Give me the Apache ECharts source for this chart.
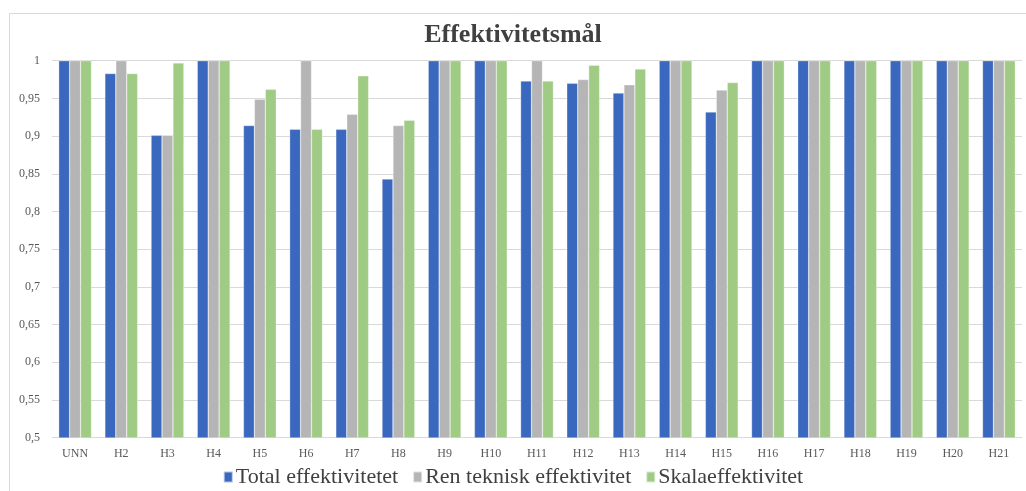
<!DOCTYPE html>
<html>
<head>
<meta charset="utf-8">
<script src="https://cdn.jsdelivr.net/npm/echarts@6/dist/echarts.min.js"></script>
<style>
  html, body { margin: 0; padding: 0; background: #ffffff; }
  #chart { width: 1026px; height: 491px; }
</style>
</head>
<body>
<div id="chart"></div>
<script>
// Hospital units
const categories = ['UNN', 'H2', 'H3', 'H4', 'H5', 'H6', 'H7', 'H8', 'H9', 'H10', 'H11',
  'H12', 'H13', 'H14', 'H15', 'H16', 'H17', 'H18', 'H19', 'H20', 'H21'];

// Efficiency scores per unit
const totalEff = [1, 0.983, 0.901, 1, 0.914, 0.909, 0.909, 0.843, 1, 1, 0.973,
  0.970, 0.957, 1, 0.932, 1, 1, 1, 1, 1, 1];
const pureTechEff = [1, 1, 0.901, 1, 0.949, 1, 0.929, 0.914, 1, 1, 1,
  0.975, 0.968, 1, 0.961, 1, 1, 1, 1, 1, 1];
const scaleEff = [1, 0.983, 0.997, 1, 0.962, 0.909, 0.980, 0.921, 1, 1, 0.973,
  0.994, 0.989, 1, 0.971, 1, 1, 1, 1, 1, 1];

const seriesNames = ['Total effektivitetet', 'Ren teknisk effektivitet', 'Skalaeffektivitet'];
const colors = ['#3b68bf', '#b5b5b5', '#a0cb84'];

const serif = '"Liberation Serif", "DejaVu Serif", serif';

const chart = echarts.init(document.getElementById('chart'));

function bar(name, data, color) {
  return {
    name: name,
    type: 'bar',
    data: data,
    barGap: '0%',
    barCategoryGap: '29%',
    itemStyle: { color: color, borderColor: 'rgba(255,255,255,0.6)', borderWidth: 0.5 }
  };
}

chart.setOption({
  animation: false,
  backgroundColor: '#ffffff',
  graphic: [{
    type: 'rect',
    shape: { x: 9.5, y: 13.5, width: 1040, height: 500 },
    style: { fill: 'none', stroke: '#d9d9d9', lineWidth: 1 },
    silent: true,
    z: -1
  }],
  title: {
    text: 'Effektivitetsmål',
    left: 'center',
    top: 17,
    textStyle: { fontFamily: serif, fontSize: 26, fontWeight: 'bold', color: '#404040' }
  },
  legend: {
    data: seriesNames,
    bottom: -2,
    left: 'center',
    itemWidth: 9,
    itemHeight: 11,
    itemGap: 14,
    icon: 'rect',
    textStyle: { fontFamily: serif, fontSize: 22, color: '#404040', padding: [0, 0, 0, -2] }
  },
  grid: { left: 52, right: 4, top: 60.7, bottom: 491 - 437.7 },
  xAxis: {
    type: 'category',
    data: categories,
    axisLine: { lineStyle: { color: '#d9d9d9' } },
    axisTick: { show: false },
    axisLabel: { fontFamily: serif, fontSize: 12, color: '#595959', margin: 10 }
  },
  yAxis: {
    type: 'value',
    min: 0.5,
    max: 1,
    interval: 0.05,
    axisLine: { show: false },
    axisTick: { show: false },
    splitLine: { lineStyle: { color: '#d9d9d9' } },
    axisLabel: {
      fontFamily: serif, fontSize: 12, color: '#595959', margin: 12,
      formatter: v => String(parseFloat(v.toFixed(2))).replace('.', ',')
    }
  },
  series: [
    bar(seriesNames[0], totalEff, colors[0]),
    bar(seriesNames[1], pureTechEff, colors[1]),
    bar(seriesNames[2], scaleEff, colors[2])
  ]
});
</script>
</body>
</html>
